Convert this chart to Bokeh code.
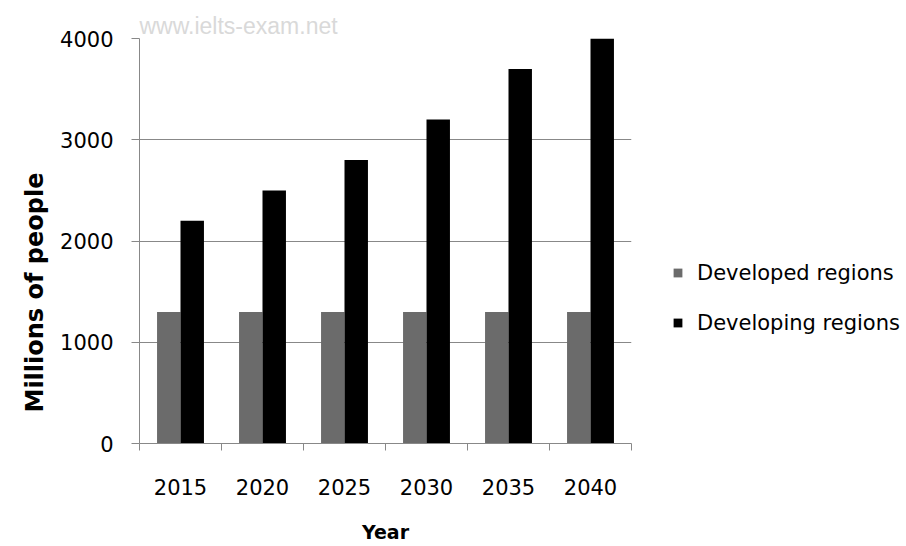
import numpy as np
from bokeh.plotting import figure
from bokeh.models import (Range1d, FixedTicker, Legend, LegendItem, Title,
                          ColumnDataSource)
from bokeh.embed import file_html
from bokeh.resources import INLINE

# ---- data ----
years = ["2015", "2020", "2025", "2030", "2035", "2040"]
developed = [1300, 1300, 1300, 1300, 1300, 1300]
developing = [2200, 2500, 2800, 3200, 3700, 4000]
y_ticks = [0, 1000, 2000, 3000, 4000]
series_names = ["Developed regions", "Developing regions"]
series_colors = ["#6b6b6b", "#000000"]

FONT = "DejaVu Sans"
n = len(years)
idx = np.arange(n)
bar_w = 0.286

src = ColumnDataSource(dict(
    x_dev=idx + 0.5 - bar_w / 2,
    x_ing=idx + 0.5 + bar_w / 2,
    developed=developed,
    developing=developing,
))

p = figure(frame_width=492, frame_height=405, output_backend="svg",
           toolbar_location=None,
           x_range=Range1d(0, n), y_range=Range1d(0, max(y_ticks)),
           min_border_left=139, min_border_right=275,
           min_border_top=38, min_border_bottom=103)
p.outline_line_color = None
p.background_fill_color = "white"
p.border_fill_color = "white"

r1 = p.vbar(x="x_dev", top="developed", width=bar_w, source=src,
            fill_color=series_colors[0], line_color=None)
r2 = p.vbar(x="x_ing", top="developing", width=bar_w, source=src,
            fill_color=series_colors[1], line_color=None)

# grid
p.xgrid.visible = False
p.ygrid.ticker = FixedTicker(ticks=y_ticks)
p.ygrid.grid_line_color = "#888888"
p.ygrid.grid_line_width = 1

# y axis
ya = p.yaxis[0]
ya.ticker = FixedTicker(ticks=y_ticks)
ya.axis_line_color = "#888888"
ya.major_tick_line_color = "#888888"
ya.major_tick_out = 8
ya.major_tick_in = 0
ya.minor_tick_line_color = None
ya.major_label_text_font = FONT
ya.major_label_text_font_size = "21px"
ya.major_label_text_color = "#000000"
ya.major_label_standoff = 18

# x axis: labels at category centres, tick marks between categories
xa = p.xaxis[0]
centers = [float(i) + 0.5 for i in idx]
bounds = [float(i) for i in range(n + 1)]
xa.ticker = FixedTicker(ticks=centers, minor_ticks=bounds)
xa.major_label_overrides = {c: y for c, y in zip(centers, years)}
xa.axis_line_color = "#888888"
xa.major_tick_line_color = None
xa.major_tick_out = 0
xa.minor_tick_line_color = "#888888"
xa.minor_tick_out = 7
xa.minor_tick_in = 0
xa.major_label_text_font = FONT
xa.major_label_text_font_size = "21px"
xa.major_label_text_color = "#000000"
xa.major_label_standoff = 28
xa.axis_label = "Year"
xa.axis_label_text_font = FONT
xa.axis_label_text_font_style = "bold"
xa.axis_label_text_font_size = "19px"
xa.axis_label_text_color = "#000000"
xa.axis_label_standoff = 23

# y title (left panel, placed lower like the reference)
ytitle = Title(text="Millions of people", align="left", offset=31,
               text_line_height=0.6,
               text_font=FONT, text_font_style="bold", text_font_size="24px",
               text_color="#000000", standoff=17)
p.add_layout(ytitle, "left")

# watermark as the top title
p.title.text = "www.ielts-exam.net"
p.title.align = "left"
p.title.text_font = "Liberation Sans"
p.title.text_font_style = "normal"
p.title.text_font_size = "23px"
p.title.text_color = "#d9d9d9"
p.title.standoff = 0
p.title.offset = 0

# legend
legend = Legend(items=[LegendItem(label=series_names[0], renderers=[r1]),
                       LegendItem(label=series_names[1], renderers=[r2])],
                location=(41, 108))
legend.border_line_color = None
legend.background_fill_alpha = 0
legend.padding = 0
legend.margin = 0
legend.glyph_width = 11
legend.glyph_height = 11
legend.label_height = 25
legend.spacing = 25
legend.label_standoff = 14
legend.label_text_font = FONT
legend.label_text_font_size = "21px"
legend.label_text_color = "#000000"
legend.label_text_baseline = "middle"
p.add_layout(legend, "right")

open("out.html", "w").write(file_html(p, INLINE))
